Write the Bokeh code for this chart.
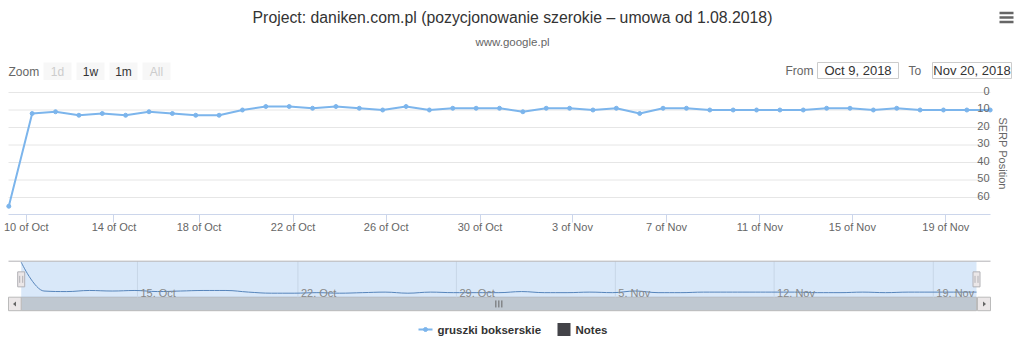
import numpy as np
import pandas as pd
from bokeh.plotting import figure
from bokeh.models import Range1d, FixedTicker, CustomJSTickFormatter
from bokeh.layouts import column
from bokeh.embed import file_html
from bokeh.resources import INLINE
from bokeh.core.properties import value

# ---------------- data ----------------
title_text = "Project: daniken.com.pl (pozycjonowanie szerokie \u2013 umowa od 1.08.2018)"
subtitle_text = "www.google.pl"
series_name = "gruszki bokserskie"
notes_name = "Notes"
y_title = "SERP Position"
range_label = "Zoom"
range_buttons = ["1d", "1w", "1m", "All"]
from_label = "From"
to_label = "To"

check_times = [
    "2018-10-09 21:00", "2018-10-10 01:00", "2018-10-11 01:30", "2018-10-12 02:00",
    "2018-10-13 02:40", "2018-10-14 21:20", "2018-10-15 21:20", "2018-10-16 21:00",
    "2018-10-17 20:35", "2018-10-18 20:35", "2018-10-19 20:25", "2018-10-20 20:10",
    "2018-10-21 20:00", "2018-10-22 20:00", "2018-10-23 20:10", "2018-10-24 20:25",
    "2018-10-25 20:25", "2018-10-26 20:25", "2018-10-27 20:35", "2018-10-28 20:55",
    "2018-10-29 20:00", "2018-10-30 20:00", "2018-10-31 20:30", "2018-11-01 20:50",
    "2018-11-02 21:05", "2018-11-03 21:05", "2018-11-04 21:05", "2018-11-05 21:05",
    "2018-11-06 20:25", "2018-11-07 20:25", "2018-11-08 20:25", "2018-11-09 20:25",
    "2018-11-10 20:25", "2018-11-11 21:35", "2018-11-12 21:35", "2018-11-13 21:35",
    "2018-11-14 21:35", "2018-11-15 21:35", "2018-11-16 21:35", "2018-11-17 21:35",
    "2018-11-18 21:35", "2018-11-19 21:35", "2018-11-20 21:35",
]
serp_position = [
    65, 12, 11, 13, 12, 13, 11, 12, 13, 13, 10, 8, 8, 9, 8, 9, 10, 8, 10, 9, 9, 9,
    11, 9, 9, 10, 9, 12, 9, 9, 10, 10, 10, 10, 10, 9, 9, 10, 9, 10, 10, 10, 10,
]
main_tick_dates = ["2018-10-10", "2018-10-14", "2018-10-18", "2018-10-22", "2018-10-26",
                   "2018-10-30", "2018-11-03", "2018-11-07", "2018-11-11", "2018-11-15",
                   "2018-11-19"]
main_tick_labels = ["10 of Oct", "14 of Oct", "18 of Oct", "22 of Oct", "26 of Oct",
                    "30 of Oct", "3 of Nov", "7 of Nov", "11 of Nov", "15 of Nov", "19 of Nov"]
nav_tick_dates = ["2018-10-15", "2018-10-22", "2018-10-29", "2018-11-05", "2018-11-12",
                  "2018-11-19"]
nav_tick_labels = ["15. Oct", "22. Oct", "29. Oct", "5. Nov", "12. Nov", "19. Nov"]
y_ticks = [0, 10, 20, 30, 40, 50, 60]

# ---------------- derived (ordinal axis) ----------------
n = len(serp_position)
idx = np.arange(n, dtype=float)
t_ns = pd.to_datetime(check_times).asi8.astype(float)


def ordinal(dates):
    return np.interp(pd.to_datetime(dates).asi8.astype(float), t_ns, idx)


main_tick_pos = [float(v) for v in ordinal(main_tick_dates)]
nav_tick_pos = [float(v) for v in ordinal(nav_tick_dates)]
first = pd.Timestamp(check_times[0])
last = pd.Timestamp(check_times[-1])
from_text = f"{first:%b} {first.day}, {first.year}"
to_text = f"{last:%b} {last.day}, {last.year}"

# ---------------- layout constants ----------------
W = 1024
HDR_H, MAIN_H, NAV_H, LEG_H = 80, 160, 72, 44
FONT = value("Liberation Sans")
TXT = "#333333"
LBL = "#666666"
LINE = "#7cb5ec"


def pixel_fig(h):
    f = figure(width=W, height=h, x_range=Range1d(0, W), y_range=Range1d(h, 0),
               output_backend="svg", toolbar_location=None,
               x_axis_location=None, y_axis_location=None,
               min_border_left=0, min_border_right=0,
               min_border_top=0, min_border_bottom=0)
    f.outline_line_color = None
    f.grid.visible = False
    return f


# ---------------- header ----------------
hdr = pixel_fig(HDR_H)
hdr.text(x=[512], y=[17], text=[title_text], text_font=FONT, text_font_size="15.8px",
         text_color=TXT, text_align="center", text_baseline="middle")
hdr.text(x=[512], y=[41], text=[subtitle_text], text_font=FONT, text_font_size="11.5px",
         text_color=LBL, text_align="center", text_baseline="middle")
hdr.segment(x0=[999] * 3, x1=[1013] * 3, y0=[12.5, 17, 21.5], y1=[12.5, 17, 21.5],
            line_color="#666666", line_width=2.5)
hdr.text(x=[8], y=[71], text=[range_label], text_font=FONT, text_font_size="12px",
         text_color=LBL, text_align="left", text_baseline="middle")
bx = [43 + 33 * k for k in range(len(range_buttons))]
hdr.quad(left=bx, right=[b + 28 for b in bx], top=[62] * 4, bottom=[80] * 4,
         fill_color="#f7f7f7", line_color=None)
btn_colors = ["#cccccc", TXT, TXT, "#cccccc"]
hdr.text(x=[b + 14 for b in bx], y=[71] * 4, text=range_buttons, text_font=FONT,
         text_font_size="12px", text_color=btn_colors, text_align="center",
         text_baseline="middle")
hdr.text(x=[785, 908], y=[70, 70], text=[from_label, to_label], text_font=FONT,
         text_font_size="12px", text_color=LBL, text_align="left", text_baseline="middle")
hdr.quad(left=[817, 932], right=[898, 1011], top=[62, 62], bottom=[78, 78],
         fill_color="white", line_color="#cccccc", line_width=1)
hdr.text(x=[857.5, 971.5], y=[70, 70], text=[from_text, to_text], text_font=FONT,
         text_font_size="13px", text_color=TXT, text_align="center", text_baseline="middle")

# ---------------- main chart ----------------
PX_X0, PX_X1 = 8.3, 989.7          # screen x of first / last point
PLOT_L, PLOT_R = 8, 990
PLOT_T, PLOT_B = 92 - HDR_H, 214 - HDR_H   # local y of value 0 and x axis
FRAME_T = 0
PPU = 1.75                          # px per SERP unit
dx = (PX_X1 - PX_X0) / (n - 1)


def px2i(px):
    return (px - PX_X0) / dx


def py2v(py):
    return (py - PLOT_T) / PPU


main = figure(width=W, height=MAIN_H,
              x_range=Range1d(px2i(0), px2i(W)),
              y_range=Range1d(py2v(PLOT_B), py2v(FRAME_T)),
              output_backend="svg", toolbar_location=None,
              x_axis_location="below", y_axis_location=None,
              min_border_left=0, min_border_right=0, min_border_top=0,
              min_border_bottom=MAIN_H - PLOT_B)
main.outline_line_color = None
main.grid.visible = False

ax = main.xaxis[0]
ax.ticker = FixedTicker(ticks=main_tick_pos, minor_ticks=[])
ax.formatter = CustomJSTickFormatter(
    args=dict(pos=main_tick_pos, labels=main_tick_labels),
    code="""let k = 0;
for (let j = 0; j < pos.length; j++) { if (Math.abs(pos[j] - tick) < Math.abs(pos[k] - tick)) k = j; }
return labels[k];""")
ax.bounds = (px2i(PLOT_L), px2i(PLOT_R))
ax.axis_line_color = "#ccd6eb"
ax.major_tick_line_color = "#ccd6eb"
ax.major_tick_in = 0
ax.major_tick_out = 8
ax.minor_tick_line_color = None
ax.major_label_text_font = "Liberation Sans"
ax.major_label_text_font_size = "11px"
ax.major_label_text_color = LBL
ax.major_label_standoff = -2

main.segment(x0=px2i(PLOT_L), x1=px2i(PLOT_R), y0=y_ticks, y1=y_ticks,
             line_color="#e6e6e6", line_width=1)
main.line(x=idx, y=serp_position, line_color=LINE, line_width=2, line_join="round")
main.scatter(x=idx, y=serp_position, size=4, fill_color=LINE, line_color=LINE)
main.text(x=px2i(PLOT_R), y=y_ticks, text=[str(v) for v in y_ticks], x_offset=-1,
          y_offset=-2, text_font=FONT, text_font_size="11px", text_color=LBL,
          text_align="right", text_baseline="alphabetic")
main.text(x=[px2i(1002)], y=[py2v((PLOT_T + PLOT_B) / 2)], text=[y_title],
          angle=-np.pi / 2, text_font=FONT, text_font_size="11px", text_color=LBL,
          text_align="center", text_baseline="middle")

# ---------------- navigator + scrollbar ----------------
nav = pixel_fig(NAV_H)
NAV_L, NAV_R = 20.7, 976.0
NAV_T, NAV_B = 261 - 240, 296.7 - 240
VMAX_PY, VMIN_PY = 261.7 - 240, 292.7 - 240
vmax, vmin = max(serp_position), min(serp_position)
nupp = (VMIN_PY - VMAX_PY) / (vmax - vmin)
ndx = (NAV_R - NAV_L) / (n - 1)
nav.extra_x_ranges = {"navx": Range1d((0 - NAV_L) / ndx, (W - NAV_L) / ndx)}
nav.extra_y_ranges = {"navy": Range1d(vmax - (NAV_H - VMAX_PY) / nupp,
                                      vmax + VMAX_PY / nupp)}

# scrollbar
SB_T, SB_B = NAV_B, NAV_B + 13.5
nav.quad(left=[8], right=[990], top=[SB_T], bottom=[SB_B], fill_color="#eeeeee",
         line_color=None)
nav.quad(left=[NAV_L], right=[NAV_R], top=[SB_T], bottom=[SB_B], fill_color="#bfc8d1",
         line_color="#bbbbbb", line_width=1)
nav.quad(left=[8, NAV_R + 1], right=[NAV_L, 990], top=[SB_T] * 2, bottom=[SB_B] * 2,
         fill_color="#ebe7e8", line_color="#bbbbbb", line_width=1)
cy = (SB_T + SB_B) / 2
nav.patches(xs=[[12.5, 15.5, 15.5], [985.5, 982.5, 982.5]],
            ys=[[cy, cy - 2.5, cy + 2.5], [cy, cy - 2.5, cy + 2.5]],
            fill_color="#666666", line_color=None)
mid = (NAV_L + NAV_R) / 2
nav.segment(x0=[mid - 3, mid, mid + 3], x1=[mid - 3, mid, mid + 3],
            y0=[cy - 3.5] * 3, y1=[cy + 3.5] * 3, line_color="#666666", line_width=1)

# grid
nav.segment(x0=nav_tick_pos, x1=nav_tick_pos, y0=NAV_T, y1=NAV_B, x_range_name="navx",
            line_color="#e6e6e6", line_width=1)


def spline_controls(xs, ys, smoothing=1.5):
    denom = smoothing + 1.0
    lc = [(xs[i], ys[i]) for i in range(len(xs))]
    rc = [(xs[i], ys[i]) for i in range(len(xs))]
    for i in range(1, len(xs) - 1):
        px, py = xs[i], ys[i]
        lx, ly = xs[i - 1], ys[i - 1]
        nx, ny = xs[i + 1], ys[i + 1]
        lcx, lcy = (smoothing * px + lx) / denom, (smoothing * py + ly) / denom
        rcx, rcy = (smoothing * px + nx) / denom, (smoothing * py + ny) / denom
        if rcx != lcx:
            corr = ((rcy - lcy) * (rcx - px)) / (rcx - lcx) + py - rcy
            lcy += corr
            rcy += corr
        if lcy > ly and lcy > py:
            lcy = max(ly, py); rcy = 2 * py - lcy
        elif lcy < ly and lcy < py:
            lcy = min(ly, py); rcy = 2 * py - lcy
        if rcy > ny and rcy > py:
            rcy = max(ny, py); lcy = 2 * py - rcy
        elif rcy < ny and rcy < py:
            rcy = min(ny, py); lcy = 2 * py - rcy
        lc[i] = (lcx, lcy)
        rc[i] = (rcx, rcy)
    return lc, rc


ys = [float(v) for v in serp_position]
lc, rc = spline_controls(list(idx), ys)
nav.bezier(x0=idx[:-1], y0=ys[:-1], x1=idx[1:], y1=ys[1:],
           cx0=[c[0] for c in rc[:-1]], cy0=[c[1] for c in rc[:-1]],
           cx1=[c[0] for c in lc[1:]], cy1=[c[1] for c in lc[1:]],
           x_range_name="navx", y_range_name="navy", line_color="#4572a7", line_width=1)
# mask
nav.quad(left=[NAV_L], right=[NAV_R], top=[NAV_T], bottom=[NAV_B],
         fill_color="rgba(128,179,236,0.3)", line_color=None)
nav.text(x=nav_tick_pos, y=NAV_B - 4, text=nav_tick_labels, x_offset=3,
         x_range_name="navx", text_font=FONT, text_font_size="11px",
         text_color="#888888", text_align="left", text_baseline="alphabetic")
nav.segment(x0=[8], x1=[990], y0=[NAV_T - 0.3], y1=[NAV_T - 0.3], line_color="#b2b1b6",
            line_width=1)
# handles
hc = (NAV_T + NAV_B) / 2
for hx in (NAV_L, NAV_R):
    nav.quad(left=[hx - 3.5], right=[hx + 3.5], top=[hc - 7.5], bottom=[hc + 7.5],
             fill_color="#ebe7e8", line_color="#b2b1b6", line_width=1)
    nav.segment(x0=[hx - 1.5, hx + 1.5], x1=[hx - 1.5, hx + 1.5],
                y0=[hc - 3.5] * 2, y1=[hc + 3.5] * 2, line_color="#b2b1b6", line_width=1)

# ---------------- legend ----------------
leg = pixel_fig(LEG_H)
ly = 329 - 312
leg.segment(x0=[418], x1=[432], y0=[ly], y1=[ly], line_color=LINE, line_width=2)
leg.scatter(x=[425], y=[ly], size=4, fill_color=LINE, line_color=LINE)
leg.text(x=[437], y=[ly], text=[series_name], text_font=FONT, text_font_size="11.5px",
         text_font_style="bold", text_color=TXT, text_align="left", text_baseline="middle")
leg.quad(left=[557], right=[570], top=[ly - 6.5], bottom=[ly + 6.5],
         fill_color="#434348", line_color=None)
leg.text(x=[575], y=[ly], text=[notes_name], text_font=FONT, text_font_size="11.5px",
         text_font_style="bold", text_color=TXT, text_align="left", text_baseline="middle")

layout = column(hdr, main, nav, leg, spacing=0)
open("out.html", "w").write(file_html(layout, INLINE))
